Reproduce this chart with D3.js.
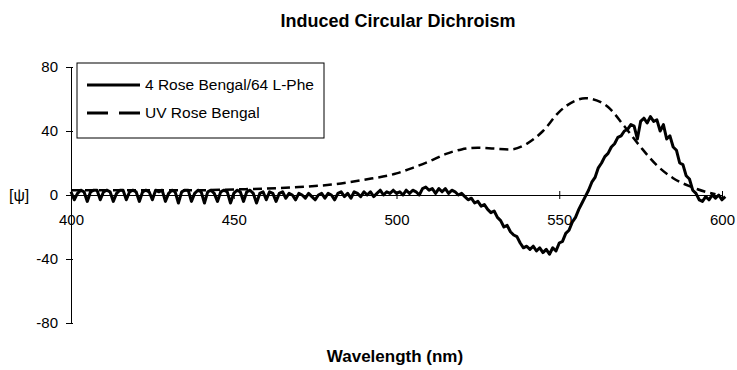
<!DOCTYPE html>
<html>
<head>
<meta charset="utf-8">
<script src="https://cdn.jsdelivr.net/npm/d3@7"></script>
<style>
  body { margin: 0; background: #fff; }
  text { font-family: "Liberation Sans", Arial, sans-serif; fill: #000; }
</style>
</head>
<body>
<svg width="737" height="370"></svg>
<script>
'use strict';

var seriesNames = ['4 Rose Bengal/64 L-Phe', 'UV Rose Bengal'];
var xTicks = [400, 450, 500, 550, 600];
var yTicks = [-80, -40, 0, 40, 80];

// CD signal, one reading per nm from 400 nm
var cdStart = 400;
var cdValues = [
  2, -3, 1, 3, 2, -4, 2, 3, 3, -3,
  2, 3, 2, -4, 1, 3, 3, -3, 2, 3,
  2, -4, 2, 3, 2, -3, 3, 2, 3, -4,
  1, 3, 2, -5, 2, 3, 3, -4, 1, 3,
  2, -5, 2, 3, 1, -4, 2, 3, 2, -5,
  1, 3, 2, -4, 2, 3, 1, -5, 1, 2,
  -3, 2, 1, -4, 1, 2, -2, 1, 0, -3,
  1, 0, -2, 1, -1, -3, 0, 1, -2, 1,
  0, -3, 1, 2, -1, 1, -2, 2, 1, -1,
  2, 0, 2, -1, 1, 3, 0, 2, 1, 3,
  1, 2, 0, 3, 1, 3, 2, 0, 4, 5,
  3, 4, 1, 4, 2, 4, 1, 3, 2, 0,
  1, -1, -3, -2, -5, -4, -7, -6, -9, -11,
  -10, -14, -16, -20, -19, -23, -25, -26, -30, -33,
  -32, -34, -32, -35, -33, -36, -34, -37, -33, -35,
  -30, -29, -24, -22, -17, -14, -9, -5, -1, 3,
  8, 11, 17, 20, 24, 26, 30, 32, 36, 37,
  40, 41, 44, 43, 35, 46, 48, 45, 49, 46,
  47, 40, 44, 35, 37, 30, 28, 20, 19, 12,
  10, 3, 1, -3, -4, -1, -3, 0, -2, 0,
  -3, -1
];

// UV absorbance trace (scaled)
var uvWave = [400, 410, 420, 430, 440, 450, 460, 470, 480, 490, 500, 505, 510, 515, 520, 525, 530, 535, 540, 545, 550, 555, 558, 560, 565, 570, 575, 580, 585, 590, 595, 598];
var uvValues = [3, 3, 3, 3, 3, 3.5, 4, 5, 6.5, 9.5, 13.5, 17, 21, 25.5, 28.5, 29.5, 29, 28.5, 32, 40, 52, 59, 60.5, 60, 55, 43, 30, 18.5, 10.5, 5.5, 2, 0.5];

var cdData = cdValues.map(function (v, i) { return { x: cdStart + i, y: v }; });
var uvData = uvWave.map(function (w, i) { return { x: w, y: uvValues[i] }; });

var svg = d3.select('svg');

var x = d3.scaleLinear().domain([400, 600]).range([71, 722]);
var y = d3.scaleLinear().domain([-80, 80]).range([323, 67]);

svg.append('text')
  .attr('x', 398).attr('y', 27)
  .attr('text-anchor', 'middle')
  .style('font-size', '18px').style('font-weight', 'bold')
  .text('Induced Circular Dichroism');

// y axis
var yAxis = svg.append('g')
  .attr('transform', 'translate(' + x(400) + ',0)')
  .call(d3.axisLeft(y).tickValues(yTicks).tickSize(5).tickPadding(8)
    .tickFormat(function (d) { return String(d); }));
yAxis.select('.domain').attr('stroke', '#000');
yAxis.selectAll('.tick text').style('font-size', '15px');
yAxis.selectAll('.tick line').attr('x2', -5).attr('x1', 2);

// x axis along zero
var xAxis = svg.append('g')
  .attr('transform', 'translate(0,' + y(0) + ')')
  .call(d3.axisBottom(x).tickValues(xTicks).tickSize(4).tickPadding(15).tickSizeOuter(0));
xAxis.select('.domain').attr('stroke', '#000');
xAxis.selectAll('.tick line').attr('y1', -4).attr('y2', 4);
xAxis.selectAll('.tick text').style('font-size', '15px');

svg.append('text')
  .attr('x', 9).attr('y', y(0))
  .attr('dy', '0.35em')
  .style('font-size', '16px')
  .text('[ψ]');

svg.append('text')
  .attr('x', 395).attr('y', 362)
  .attr('text-anchor', 'middle')
  .style('font-size', '17px').style('font-weight', 'bold')
  .text('Wavelength (nm)');

var line = d3.line()
  .x(function (d) { return x(d.x); })
  .y(function (d) { return y(d.y); });

svg.append('path')
  .datum(uvData)
  .attr('fill', 'none')
  .attr('stroke', '#000')
  .attr('stroke-width', 2.5)
  .attr('stroke-dasharray', '9,5')
  .attr('d', line.curve(d3.curveMonotoneX));

svg.append('path')
  .datum(cdData)
  .attr('fill', 'none')
  .attr('stroke', '#000')
  .attr('stroke-width', 3)
  .attr('stroke-linejoin', 'round')
  .attr('d', line.curve(d3.curveLinear));

// legend
var legend = svg.append('g').attr('transform', 'translate(77,63)');
legend.append('rect')
  .attr('width', 247).attr('height', 75)
  .attr('fill', '#fff').attr('stroke', '#000').attr('stroke-width', 1);

var rows = legend.selectAll('g.row')
  .data(seriesNames)
  .enter().append('g')
  .attr('class', 'row')
  .attr('transform', function (d, i) { return 'translate(0,' + (22 + i * 28) + ')'; });

rows.append('line')
  .attr('x1', 10).attr('x2', 63)
  .attr('stroke', '#000').attr('stroke-width', 3)
  .attr('stroke-dasharray', function (d, i) { return i ? '21,11' : null; });

rows.append('text')
  .attr('x', 68).attr('dy', '0.35em')
  .style('font-size', '15.5px')
  .text(function (d) { return d; });
</script>
</body>
</html>
